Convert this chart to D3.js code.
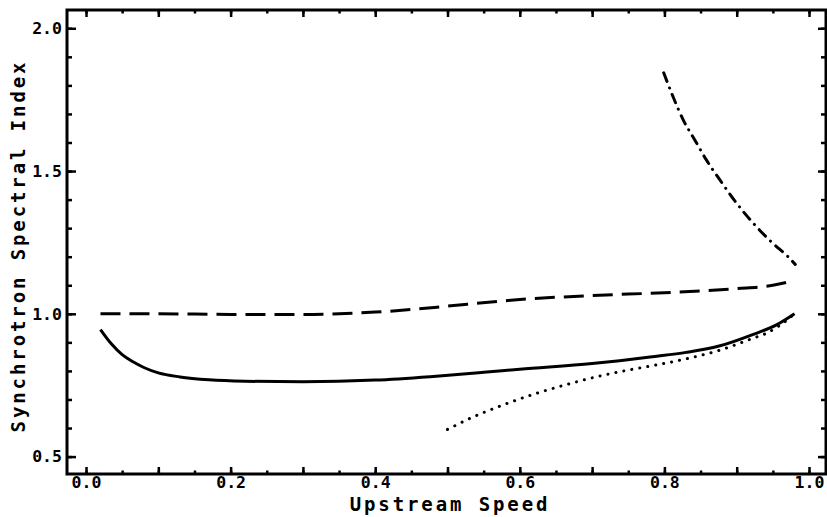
<!DOCTYPE html>
<html>
<head>
<meta charset="utf-8">
<script src="https://cdn.jsdelivr.net/npm/d3@7"></script>
<style>
  body { margin: 0; background: #fff; }
  svg { display: block; }
  .tick text { font-family: "DejaVu Sans Mono", monospace; font-weight: bold; font-size: 16.5px; fill: #000; }
  .title { font-family: "DejaVu Sans Mono", monospace; font-weight: bold; font-size: 19px; fill: #000; letter-spacing: 2.9px; }
</style>
</head>
<body>
<script>
// values
const solidSpeed = [0.02, 0.035, 0.05, 0.065, 0.08, 0.1, 0.13, 0.17, 0.22, 0.3, 0.4, 0.476, 0.55, 0.6, 0.7, 0.738, 0.784, 0.83, 0.877, 0.923, 0.955, 0.98];
const solidIndex = [0.945, 0.895, 0.857, 0.832, 0.812, 0.793, 0.779, 0.769, 0.764, 0.762, 0.768, 0.780, 0.795, 0.806, 0.826, 0.836, 0.850, 0.865, 0.888, 0.928, 0.961, 1.0];

const dashedSpeed = [0.02, 0.1, 0.2, 0.3, 0.4, 0.45, 0.5, 0.6, 0.7, 0.8, 0.9, 0.95, 0.98];
const dashedIndex = [1.0, 1.0, 0.998, 0.998, 1.006, 1.015, 1.027, 1.05, 1.064, 1.074, 1.088, 1.1, 1.117];

const dottedSpeed = [0.5, 0.533, 0.576, 0.62, 0.663, 0.707, 0.75, 0.787, 0.833, 0.877, 0.92, 0.941, 0.96, 0.98];
const dottedIndex = [0.595, 0.636, 0.680, 0.719, 0.751, 0.780, 0.803, 0.820, 0.844, 0.873, 0.912, 0.932, 0.96, 1.0];

const dashDotSpeed = [0.799, 0.812, 0.826, 0.842, 0.858, 0.877, 0.9, 0.923, 0.95, 0.971, 0.981];
const dashDotIndex = [1.844, 1.760, 1.679, 1.609, 1.539, 1.468, 1.387, 1.317, 1.247, 1.200, 1.173];

const xLabelTicks = [0.0, 0.2, 0.4, 0.6, 0.8, 1.0];
const yLabelTicks = [0.5, 1.0, 1.5, 2.0];

const width = 827, height = 517;
const frame = { left: 67, top: 10, right: 826, bottom: 474 };

const x = d3.scaleLinear().domain([-0.0263, 1.0235]).range([frame.left, frame.right]);
const y = d3.scaleLinear().domain([0.439, 2.064]).range([frame.bottom, frame.top]);

const svg = d3.select("body").append("svg")
    .attr("width", width)
    .attr("height", height);

const fmt = d3.format(".1f");
const steps = (a, b, s) => d3.range(Math.round((b - a) / s) + 1).map(i => +(a + i * s).toFixed(3));

const xMinor = steps(0, 1, 0.05);
const xMajor = steps(0, 1, 0.1);
const yMinor = steps(0.5, 2.0, 0.1);
const yMajor = steps(0.5, 2.0, 0.5);

function addAxis(axis, transform) {
    const g = svg.append("g").attr("transform", transform).call(axis);
    g.select(".domain").remove();
    g.selectAll(".tick line").attr("stroke", "#000").attr("stroke-width", 2.5);
    return g;
}

// bottom
addAxis(d3.axisBottom(x).tickValues(xMinor).tickSize(-3.5).tickFormat(""), `translate(0,${frame.bottom})`);
addAxis(d3.axisBottom(x).tickValues(xMajor).tickSize(-7).tickFormat(""), `translate(0,${frame.bottom})`);
addAxis(d3.axisBottom(x).tickValues(xLabelTicks).tickSize(0).tickPadding(14).tickFormat(fmt), `translate(0,${frame.bottom})`)
    .selectAll("text").attr("dy", 0);
// top
addAxis(d3.axisTop(x).tickValues(xMinor).tickSize(-3.5).tickFormat(""), `translate(0,${frame.top})`);
addAxis(d3.axisTop(x).tickValues(xMajor).tickSize(-7).tickFormat(""), `translate(0,${frame.top})`);
// left
addAxis(d3.axisLeft(y).tickValues(yMinor).tickSize(-5).tickFormat(""), `translate(${frame.left},0)`);
addAxis(d3.axisLeft(y).tickValues(yMajor).tickSizeInner(-9).tickSizeOuter(0).tickFormat(""), `translate(${frame.left},0)`);
addAxis(d3.axisLeft(y).tickValues(yLabelTicks).tickSize(0).tickPadding(5).tickFormat(fmt), `translate(${frame.left},0)`);
// right
addAxis(d3.axisRight(y).tickValues(yMinor).tickSize(-5).tickFormat(""), `translate(${frame.right},0)`);
addAxis(d3.axisRight(y).tickValues(yMajor).tickSize(-8).tickFormat(""), `translate(${frame.right},0)`);

// frame
svg.append("rect")
    .attr("x", frame.left).attr("y", frame.top)
    .attr("width", frame.right - frame.left).attr("height", frame.bottom - frame.top)
    .attr("fill", "none").attr("stroke", "#000").attr("stroke-width", 3);

const line = d3.line()
    .x(d => x(d[0]))
    .y(d => y(d[1]))
    .curve(d3.curveMonotoneX);

const series = [
    { xs: solidSpeed, ys: solidIndex, dash: null, cap: "butt" },
    { xs: dashedSpeed, ys: dashedIndex, dash: "20 9", cap: "butt" },
    { xs: dottedSpeed, ys: dottedIndex, dash: "0.1 8", cap: "round" },
    { xs: dashDotSpeed, ys: dashDotIndex, dash: "9 7 0.1 7", cap: "round" }
];

svg.selectAll(".curve")
    .data(series)
    .join("path")
    .attr("class", "curve")
    .attr("d", s => line(d3.zip(s.xs, s.ys)))
    .attr("fill", "none")
    .attr("stroke", "#000")
    .attr("stroke-width", 3)
    .attr("stroke-linecap", d => d.cap)
    .attr("stroke-dasharray", d => d.dash);

// axis titles
svg.append("text")
    .attr("class", "title")
    .attr("x", 450).attr("y", 511)
    .attr("text-anchor", "middle")
    .text("Upstream Speed");

svg.append("text")
    .attr("class", "title")
    .attr("transform", "translate(25,246) rotate(-90)")
    .attr("text-anchor", "middle")
    .text("Synchrotron Spectral Index");
</script>
</body>
</html>
